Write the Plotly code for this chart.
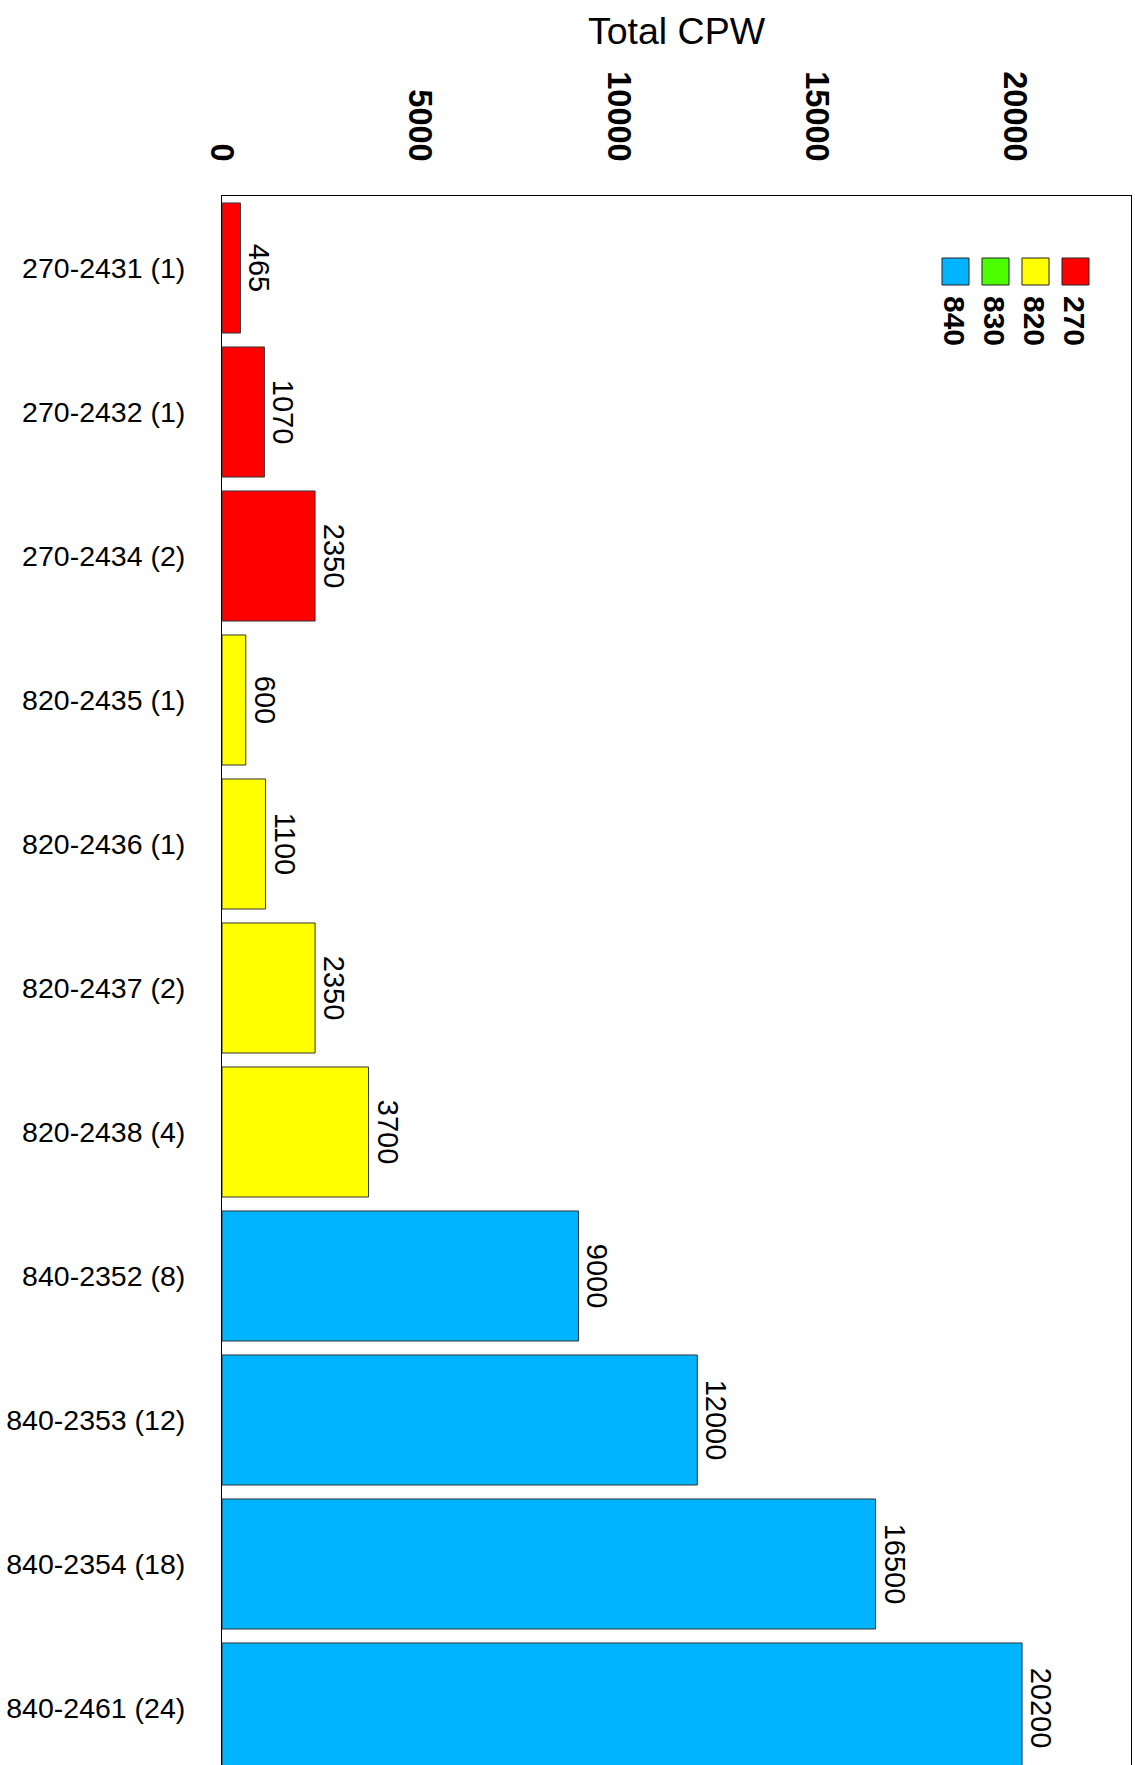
import plotly.graph_objects as go

categories = ["270-2431 (1)", "270-2432 (1)", "270-2434 (2)", "820-2435 (1)",
              "820-2436 (1)", "820-2437 (2)", "820-2438 (4)", "840-2352 (8)",
              "840-2353 (12)", "840-2354 (18)", "840-2461 (24)"]
values = [465, 1070, 2350, 600, 1100, 2350, 3700, 9000, 12000, 16500, 20200]
groups = ["270", "270", "270", "820", "820", "820", "820", "840", "840", "840", "840"]
legend_labels = ["840", "830", "820", "270"]
group_colors = {"270": "#FF0000", "820": "#FFFF00", "830": "#4CFF00", "840": "#00B4FF"}
x_ticks = [0, 5000, 10000, 15000, 20000]

W, H = 1135, 1765
L, R, T = 222, 1131, 196
B = H
FONT = "Liberation Sans, Arial, sans-serif"

fig = go.Figure()
for g in ["270", "820", "840"]:
    ys = [c for c, gg in zip(categories, groups) if gg == g]
    xs = [v for v, gg in zip(values, groups) if gg == g]
    fig.add_trace(go.Bar(
        y=ys, x=xs, orientation="h", width=0.903,
        marker=dict(color=group_colors[g], line=dict(color="#333333", width=1)),
        text=[str(v) for v in xs], textposition="outside", textangle=90,
        textfont=dict(family=FONT, size=29, color="black"),
        cliponaxis=True, showlegend=False, hoverinfo="skip",
    ))

pitch = 144.0
n_vis = (B - T) / pitch

fig.update_layout(
    width=W, height=H,
    margin=dict(l=L, r=W - R, t=T, b=0, pad=0),
    plot_bgcolor="white", paper_bgcolor="white",
    barmode="overlay",
    font=dict(family=FONT, color="black"),
    title=dict(text="Total CPW", x=(L + R) / 2 / W, xref="container", xanchor="center",
               y=1 - 31 / H, yref="container", yanchor="middle",
               font=dict(family=FONT, size=37.5, color="black")),
    xaxis=dict(side="top", range=[0, 22950], tickvals=x_ticks,
               ticktext=[str(t) for t in x_ticks], tickangle=90,
               tickfont=dict(family=FONT, size=32.5, color="black", weight="bold"),
               showgrid=False, zeroline=False, showline=True, linecolor="black",
               linewidth=1, mirror=False, ticks="", ticklabelstandoff=22),
    yaxis=dict(type="category", categoryorder="array", categoryarray=categories,
               range=[-0.5 + n_vis, -0.5], showgrid=False, zeroline=False,
               showline=True, linecolor="black", linewidth=1, mirror=True, ticks="",
               tickfont=dict(family=FONT, size=28.5, color="black"),
               ticklabelstandoff=30),
)

# legend swatches (manual, labels rotated)
def px_x(p):
    return (p - L) / (R - L)

def px_y(p):
    return 1 - (p - T) / (B - T)

sw_left = [942, 982, 1022, 1062]
for lab, x0 in zip(legend_labels, sw_left):
    fig.add_shape(type="rect", xref="paper", yref="paper",
                  x0=px_x(x0), x1=px_x(x0 + 27), y0=px_y(285), y1=px_y(258),
                  fillcolor=group_colors[lab], line=dict(color="#222222", width=1))
    fig.add_annotation(xref="paper", yref="paper", x=px_x(x0 + 12), y=px_y(321),
                       text=lab, textangle=90, showarrow=False,
                       xanchor="center", yanchor="middle",
                       font=dict(family=FONT, size=30, color="black", weight="bold"))

fig.write_html("out.html", config={"displayModeBar": False},
               post_script="document.body.style.margin='0px';document.body.style.overflow='hidden';")
